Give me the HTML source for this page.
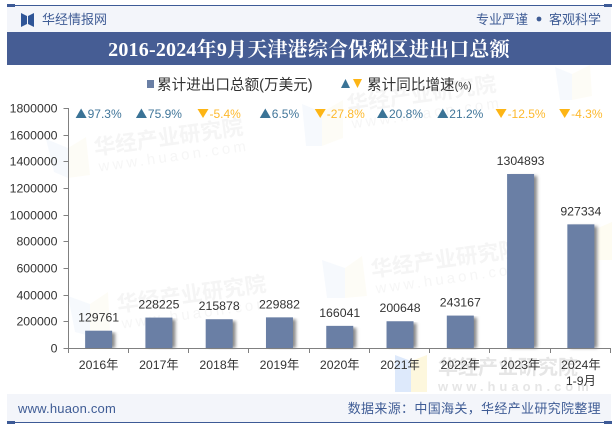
<!DOCTYPE html>
<html lang="zh">
<head>
<meta charset="utf-8">
<title>2016-2024年9月天津港综合保税区进出口总额</title>
<style>
html,body{margin:0;padding:0;background:#fff;}
body{width:615px;height:427px;overflow:hidden;position:relative;}
svg{display:block;position:absolute;left:0;top:0;}
text{font-family:"Liberation Sans","Noto Sans CJK SC",sans-serif;}
</style>
</head>
<body>
<svg id="chart" width="615" height="427" viewBox="0 0 615 427" xmlns="http://www.w3.org/2000/svg">
  <defs>
    <filter id="barShadow" x="-30%" y="-5%" width="170%" height="110%">
      <feGaussianBlur stdDeviation="1.6"/>
    </filter>
  </defs>
  <rect x="0" y="0" width="615" height="427" fill="#fff"/>

  <g id="watermarks">
    <g opacity="0.5">
      <polygon points="46,139 68,148 68,178 54,172" fill="#eef4fc"/>
      <polygon points="68,148 86,137 90,175 68,178" fill="#fdfaee"/>
    </g>
    <g transform="rotate(-8 95 155)">
      <text x="95" y="155" font-size="21.5" font-weight="700" fill="#f5f5f5">华经产业研究院</text>
      <text x="97" y="172" font-size="15" letter-spacing="3.2" fill="#f6f6f6">www.huaon.com</text>
    </g>
    <g opacity="0.5">
      <polygon points="302,104 322,112 322,146 306,146" fill="#eef4fc"/>
      <polygon points="322,112 343,100 343,138 322,146" fill="#fdfaee"/>
    </g>
    <g transform="rotate(-8 348 112)">
      <text x="348" y="112" font-size="21.5" font-weight="700" fill="#f5f5f5">华经产业研究院</text>
      <text x="350" y="129" font-size="15" letter-spacing="3.2" fill="#f6f6f6">www.huaon.com</text>
    </g>
    <g opacity="0.5">
      <polygon points="555,67 572,74 572,100 560,100" fill="#eef4fc"/>
      <polygon points="572,74 590,65 592,96 572,100" fill="#fdfaee"/>
    </g>
    <polygon points="598,228 612,222 612,260 598,260" fill="#fefcf2"/>
    <g opacity="0.5">
      <polygon points="68,296 90,304 90,336 75,332" fill="#eef4fc"/>
      <polygon points="90,304 108,292 110,330 90,336" fill="#fdfaee"/>
    </g>
    <g transform="rotate(-8 118 312)">
      <text x="118" y="312" font-size="21.5" font-weight="700" fill="#f5f5f5">华经产业研究院</text>
      <text x="120" y="329" font-size="15" letter-spacing="3.2" fill="#f6f6f6">www.huaon.com</text>
    </g>
    <g opacity="0.5">
      <polygon points="322,260 345,268 345,298 327,298" fill="#eef4fc"/>
      <polygon points="345,268 362,256 367,296 345,298" fill="#fdfaee"/>
    </g>
    <g transform="rotate(-8 372 277)">
      <text x="372" y="277" font-size="21.5" font-weight="700" fill="#f5f5f5">华经产业研究院</text>
      <text x="374" y="294" font-size="15" letter-spacing="3.2" fill="#f6f6f6">www.huaon.com</text>
    </g>
    <polygon points="395,355 411,361 411,392 395,392" fill="#dde9fb"/>
    <polygon points="411,361 427,355 427,392 411,392" fill="#fdf7dd"/>
    <text x="438" y="374" font-size="20" font-weight="700" fill="#e6e6e6">华经产业研究院</text>
    <text x="438" y="391" font-size="13" font-weight="700" letter-spacing="4" fill="#e6e6e6">www.huaon.com</text>
  </g>

  <rect x="7" y="6" width="604" height="26" fill="#f3f5fa"/>
  <rect x="7" y="5" width="604" height="1" fill="#3d5a96"/>
  <rect x="7" y="4" width="8" height="3" fill="#3d5a96"/>
  <rect x="604" y="4" width="8" height="3" fill="#3d5a96"/>
  <g>
    <polygon points="21,13 27,16 27,24 21,27" fill="#2f5597"/>
    <polygon points="34,13 28,16 28,24 34,27" fill="#2f5597"/>
  </g>
  <text x="42" y="24" font-size="13" fill="#3f5c95">华经情报网</text>
  <text x="476" y="24" font-size="13" fill="#3f5c95">专业严谨</text>
  <circle cx="539" cy="19" r="2.4" fill="#3f5c95"/>
  <text x="549" y="24" font-size="13" fill="#3f5c95">客观科学</text>

  <rect x="7" y="32" width="604" height="33" fill="#465d94"/>
  <text x="309" y="56" text-anchor="middle" font-size="20" letter-spacing="0.2" font-weight="700" fill="#fff" style="font-family:'Liberation Serif','Noto Serif CJK SC',serif">2016-2024年9月天津港综合保税区进出口总额</text>

  <g>
    <rect x="147" y="80" width="7" height="8" fill="#6a7fa5"/>
    <text x="157" y="89.5" font-size="14.6" fill="#333">累计进出口总额(万美元)</text>
    <polygon points="341,88 345.5,79 350,88" fill="#3a7396"/>
    <polygon points="353,79 362,79 357.5,88" fill="#fdb515"/>
    <text x="367" y="89.5" font-size="14.6" fill="#333">累计同比增速<tspan font-size="11">(%)</tspan></text>
  </g>

  <g id="plot"></g>

  <rect x="7" y="394" width="604" height="28" fill="#f3f5fa"/>
  <rect x="7" y="422" width="604" height="1" fill="#3d5a96"/>
  <rect x="7" y="421" width="8" height="3" fill="#3d5a96"/>
  <rect x="604" y="421" width="8" height="3" fill="#3d5a96"/>
  <text x="18" y="413" font-size="13" letter-spacing="0.2" fill="#3f5c95">www.huaon.com</text>
  <text x="601" y="413" text-anchor="end" font-size="13" letter-spacing="0.33" fill="#3f5c95">数据来源：中国海关，华经产业研究院整理</text>
</svg>
<script>
var categories = ["2016年", "2017年", "2018年", "2019年", "2020年", "2021年", "2022年", "2023年", "2024年|1-9月"];
var totals = [129761, 228225, 215878, 229882, 166041, 200648, 243167, 1304893, 927334];
var growthRates = [97.3, 75.9, -5.4, 6.5, -27.8, 20.8, 21.2, -12.5, -4.3];
var yTickValues = [0, 200000, 400000, 600000, 800000, 1000000, 1200000, 1400000, 1600000, 1800000];

var plotLeft = 68.5, plotRight = 611, plotBottom = 348, plotTop = 108;
var yMax = 1800000;
var NS = "http://www.w3.org/2000/svg";
var plot = document.getElementById("plot");

function yScale(v) { return plotBottom - (v / yMax) * (plotBottom - plotTop); }
function bandWidth() { return (plotRight - plotLeft) / categories.length; }
function xEdge(i) { return plotLeft + i * bandWidth(); }
function xCenter(i) { return xEdge(i) + bandWidth() / 2; }
function make(tag, attrs) {
  var el = document.createElementNS(NS, tag);
  for (var k in attrs) el.setAttribute(k, attrs[k]);
  plot.appendChild(el);
  return el;
}

var barW = 27;
totals.forEach(function (v, i) {
  var top = yScale(v);
  var shadow = make("rect", { x: xCenter(i) - barW / 2 + 3, y: top + 2, width: barW, height: plotBottom - top - 2, fill: "#8a8a8a", filter: "url(#barShadow)" });
  
  
  var bar = make("rect", { x: xCenter(i) - barW / 2, y: top, width: barW, height: plotBottom - top, fill: "#6a7fa5" });
  
  
  var label = make("text", { x: xCenter(i), y: top - 9, "text-anchor": "middle", "font-size": 12.3, fill: "#333" });
  label.textContent = String(v);
  
  
});

var axisY = make("rect", { x: plotLeft - 0.5, y: plotTop, width: 1, height: plotBottom - plotTop + 1, fill: "#808080" });


var axisX = make("rect", { x: plotLeft, y: plotBottom, width: plotRight - plotLeft, height: 1, fill: "#808080" });



yTickValues.forEach(function (v) {
  var y = Math.round(yScale(v));
  var tick = make("rect", { x: plotLeft - 5, y: y, width: 5, height: 1, fill: "#808080" });
  
  
  var label = make("text", { x: 57.5, y: y + 4.5, "text-anchor": "end", "font-size": 12.3, fill: "#333" });
  label.textContent = String(v);
  
  
});

for (var e = 0; e <= categories.length; e++) {
  var xt = make("rect", { x: Math.round(xEdge(e)) - 1, y: plotBottom, width: 1, height: 5, fill: "#808080" });
  
  
}

categories.forEach(function (c, i) {
  c.split("|").forEach(function (line, n) {
    var t = make("text", { x: xCenter(i), y: 369 + n * 16, "text-anchor": "middle", "font-size": 12.3, fill: "#333" });
    t.textContent = line;
    
    
  });
});

growthRates.forEach(function (g, i) {
  var up = g >= 0;
  var label = make("text", { y: 118, "font-size": 12, fill: up ? "#41769a" : "#fdb92d" });
  label.textContent = g + "%";
  
  
  var textW = label.getComputedTextLength();
  var left = xCenter(i) - (textW + 12) / 2;
  label.setAttribute("x", left + 12);
  var pts = up
    ? [left, 118, left + 5.5, 108.5, left + 11, 118]
    : [left, 109, left + 11, 109, left + 5.5, 118];
  var tri = make("polygon", { points: pts.join(","), fill: up ? "#3a7396" : "#fdb515" });
  
  
});
</script>
</body>
</html>
